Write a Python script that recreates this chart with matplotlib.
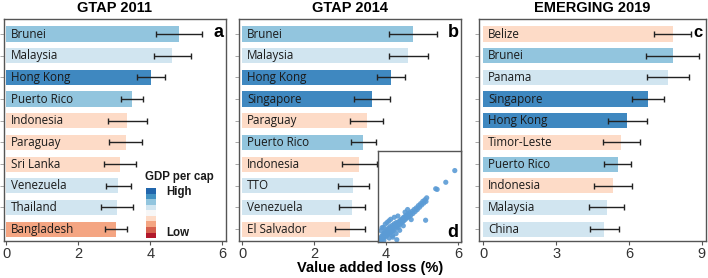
import matplotlib
matplotlib.use('Agg')
import matplotlib.pyplot as plt
from matplotlib.patches import Rectangle

plt.rcParams['font.family'] = ['Liberation Sans', 'DejaVu Sans']

# ---- data ----
countries_a = ['Brunei', 'Malaysia', 'Hong Kong', 'Puerto Rico', 'Indonesia',
               'Paraguay', 'Sri Lanka', 'Venezuela', 'Thailand', 'Bangladesh']
loss_a = [4.80, 4.61, 4.02, 3.50, 3.36, 3.32, 3.16, 3.11, 3.07, 3.05]
err_a = [0.63, 0.52, 0.39, 0.30, 0.54, 0.46, 0.44, 0.35, 0.45, 0.30]
gdp_a = ['mh', 'ml', 'h', 'mh', 'l', 'l', 'l', 'ml', 'ml', 'll']

countries_b = ['Brunei', 'Malaysia', 'Hong Kong', 'Singapore', 'Paraguay',
               'Puerto Rico', 'Indonesia', 'TTO', 'Venezuela', 'El Salvador']
loss_b = [4.75, 4.62, 4.14, 3.60, 3.46, 3.37, 3.26, 3.09, 3.05, 3.00]
err_b = [0.66, 0.54, 0.38, 0.50, 0.47, 0.34, 0.48, 0.43, 0.36, 0.41]
gdp_b = ['mh', 'ml', 'h', 'h', 'l', 'mh', 'l', 'ml', 'ml', 'l']

countries_c = ['Belize', 'Brunei', 'Panama', 'Singapore', 'Hong Kong',
               'Timor-Leste', 'Puerto Rico', 'Indonesia', 'Malaysia', 'China']
loss_c = [7.81, 7.80, 7.61, 6.80, 5.93, 5.69, 5.54, 5.35, 5.08, 4.99]
err_c = [0.77, 1.09, 0.88, 0.66, 0.81, 0.76, 0.56, 0.79, 0.72, 0.59]
gdp_c = ['l', 'mh', 'ml', 'h', 'h', 'l', 'mh', 'l', 'ml', 'ml']

# inset d: comparison of losses
inset_x = [3.84, 3.85, 3.86, 3.88, 3.90, 3.92, 3.93, 3.95, 3.97, 3.98, 4.00, 4.01,
           4.03, 4.04, 4.06, 4.07, 4.09, 4.10, 4.12, 4.13, 4.15, 4.16, 4.18, 4.19,
           4.21, 4.22, 4.24, 4.25, 4.27, 4.28, 4.30, 4.31, 4.33, 4.35, 4.36, 4.38,
           4.40, 4.42, 4.44, 4.46, 4.48, 4.50, 4.52, 4.54, 4.56, 4.58, 4.61, 4.63,
           4.66, 4.68, 4.71, 4.74, 4.77, 4.80, 4.83, 4.86, 4.89, 4.92, 4.95, 4.98,
           5.01, 5.04, 5.07, 5.10, 5.13, 5.15, 5.40, 5.44, 5.68, 5.93, 5.12, 4.72,
           4.32, 4.00, 4.10, 4.20, 3.95, 4.35, 4.50, 3.88, 3.91, 4.05, 4.15, 4.25,
           4.21, 4.30, 4.40, 3.96, 4.11, 4.62, 4.55]
inset_y = [3.86, 3.84, 3.92, 3.86, 3.97, 3.88, 4.02, 3.94, 4.08, 3.99, 4.12, 3.96,
           4.05, 4.18, 4.01, 4.10, 4.22, 4.06, 4.15, 4.27, 4.09, 4.20, 4.12, 4.31,
           4.24, 4.15, 4.29, 4.36, 4.20, 4.33, 4.26, 4.40, 4.30, 4.37, 4.25, 4.43,
           4.34, 4.47, 4.38, 4.50, 4.42, 4.55, 4.46, 4.58, 4.50, 4.62, 4.55, 4.66,
           4.58, 4.70, 4.63, 4.74, 4.68, 4.80, 4.74, 4.85, 4.80, 4.92, 4.87, 4.98,
           4.94, 5.05, 5.00, 5.10, 5.05, 5.16, 5.44, 5.42, 5.64, 6.00, 4.47, 4.49,
           3.87, 4.35, 4.45, 4.00, 4.25, 4.60, 4.30, 4.15, 4.24, 4.40, 4.50, 4.56,
           3.95, 4.06, 4.16, 3.85, 3.92, 4.80, 4.72]

legend_colors = ['#2166ac', '#4393c3', '#92c5de', '#d1e5f0', '#f7f7f7',
                 '#fddbc7', '#f4a582', '#d6604d', '#b2182b']
gdp_colors = {'h': '#3f88c0', 'mh': '#92c5de', 'ml': '#d1e5f0',
              'l': '#fddbc7', 'll': '#f4a582'}

fig = plt.figure(figsize=(7.08, 2.78), dpi=100)

panels = [
    ([0.0056, 0.133, 0.3136, 0.799], countries_a, loss_a, err_a, gdp_a,
     'GTAP 2011', 'a', (-0.06, 6.1), [0, 2, 4, 6], 13),
    ([0.3376, 0.133, 0.3136, 0.799], countries_b, loss_b, err_b, gdp_b,
     'GTAP 2014', 'b', (-0.09, 6.09), [0, 2, 4, 6], 13),
    ([0.6766, 0.133, 0.3206, 0.799], countries_c, loss_c, err_c, gdp_c,
     'EMERGING 2019', 'c', (-0.18, 9.18), [0, 3, 6, 9], 12),
]

axes = []
for pos, names, vals, errs, groups, title, letter, xlim, xt, lsize in panels:
    ax = fig.add_axes(pos)
    ypos = list(range(len(names)))
    ax.barh(ypos, vals, height=0.7, color=[gdp_colors[g] for g in groups], zorder=1)
    ax.errorbar(vals, ypos, xerr=errs, fmt='none', ecolor='#222222',
                elinewidth=1, capsize=2, capthick=1, zorder=3)
    for y, name in zip(ypos, names):
        ax.annotate(name, xy=(0, y), xytext=(3.5, 0), textcoords='offset points',
                    va='center', ha='left', fontsize=8.4, color='#1a1a1a',
                    family=['Open Sans', 'DejaVu Sans'], zorder=4)
    ax.set_xlim(*xlim)
    ax.set_ylim(9.55, -0.7)
    ax.set_xticks(xt)
    ax.set_yticks(ypos)
    ax.set_yticklabels([])
    ax.tick_params(axis='x', labelsize=10.5, labelcolor='#333333', color='#555555',
                   length=3, width=0.8, pad=1.5)
    ax.tick_params(axis='y', color='#999999', length=3, width=0.6)
    for sp in ax.spines.values():
        sp.set_color('#555555')
        sp.set_linewidth(1)
    ax.set_title(title, fontsize=10.5, fontweight='bold', pad=5)
    ax.text(0.965, 0.94, letter, transform=ax.transAxes, fontsize=lsize,
            fontweight='bold', ha='center', va='center', zorder=5)
    axes.append(ax)

ax_a, ax_b, ax_c = axes

# GDP legend in panel a
ax_a.text(0.635, 0.288, 'GDP per cap', transform=ax_a.transAxes, fontsize=8.3,
          fontweight='bold', ha='left', va='center', color='#1a1a1a')
cell_h = 0.226 / len(legend_colors)
for i, col in enumerate(legend_colors):
    ax_a.add_patch(Rectangle((0.64, 0.239 - (i + 1) * cell_h), 0.045, cell_h,
                             transform=ax_a.transAxes, facecolor=col,
                             edgecolor='none', zorder=5))
ax_a.text(0.73, 0.22, 'High', transform=ax_a.transAxes, fontsize=8.3,
          fontweight='bold', ha='left', va='center', color='#1a1a1a')
ax_a.text(0.73, 0.036, 'Low', transform=ax_a.transAxes, fontsize=8.3,
          fontweight='bold', ha='left', va='center', color='#1a1a1a')

# shared x label
fig.text(370 / 708, 0.035, 'Value added loss (%)', fontsize=10.5,
         fontweight='bold', ha='center', va='center')

# inset d
ax_d = fig.add_axes([0.534, 0.1295, 0.117, 0.327])
ax_d.scatter(inset_x, inset_y, s=14, color='#5b9bd5', alpha=0.9,
             edgecolors='none', zorder=2)
ax_d.set_xlim(3.8, 6.1)
ax_d.set_ylim(3.8, 6.6)
ax_d.set_xticks([])
ax_d.set_yticks([])
for sp in ax_d.spines.values():
    sp.set_color('#555555')
    sp.set_linewidth(1)
ax_d.text(0.9, 0.1, 'd', transform=ax_d.transAxes, fontsize=13,
          fontweight='bold', ha='center', va='center')

fig.savefig('out.png', dpi=100)
